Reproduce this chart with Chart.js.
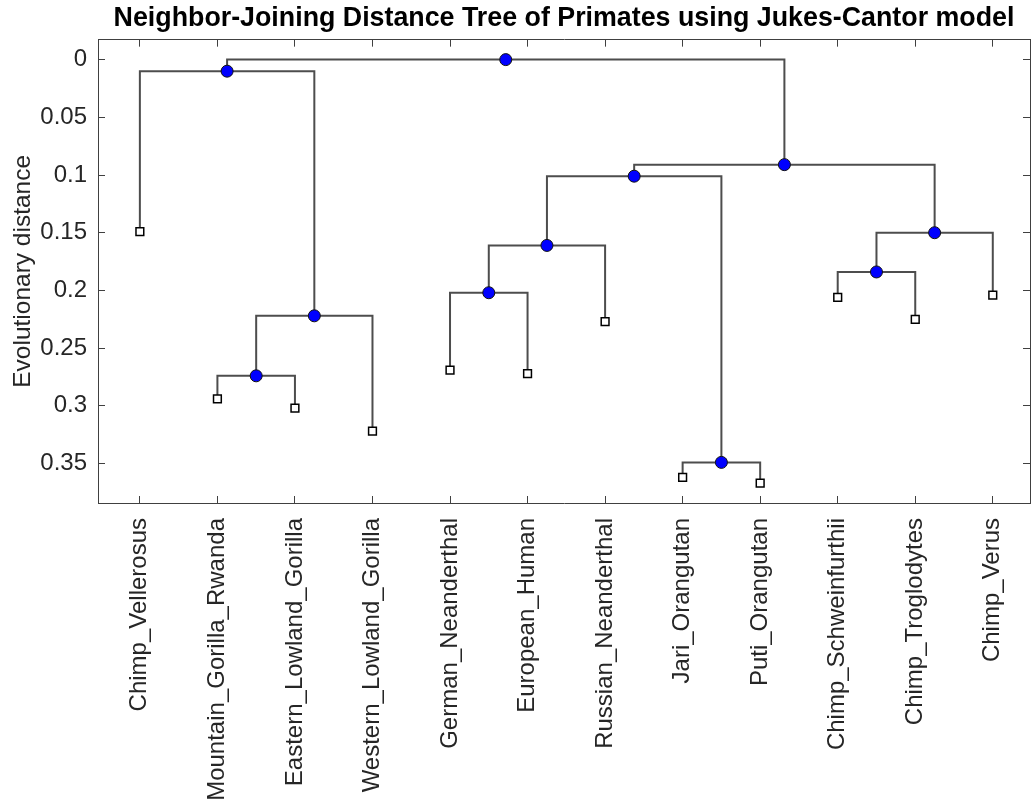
<!DOCTYPE html>
<html>
<head>
<meta charset="utf-8">
<title>Neighbor-Joining Distance Tree</title>
<script src="https://cdn.jsdelivr.net/npm/chart.js@4/dist/chart.umd.min.js"></script>
<style>
  html, body { margin: 0; padding: 0; background: #ffffff; }
  #treeChart { display: block; }
</style>
</head>
<body>
<canvas id="treeChart" width="1031" height="802"></canvas>
<script>
// leaves in plotting order, with their distance from the root
const leafNames = [
    'Chimp_Vellerosus', 'Mountain_Gorilla_Rwanda', 'Eastern_Lowland_Gorilla',
    'Western_Lowland_Gorilla', 'German_Neanderthal', 'European_Human',
    'Russian_Neanderthal', 'Jari_Orangutan', 'Puti_Orangutan',
    'Chimp_Schweinfurthii', 'Chimp_Troglodytes', 'Chimp_Verus'
];
const leafDistances = [0.149, 0.294, 0.302, 0.322, 0.269, 0.272, 0.227, 0.362, 0.367, 0.206, 0.225, 0.204];

// branch nodes get ids 12, 13, ... in this order; each joins two earlier ids
const branchChildren = [[1, 2], [12, 3], [0, 13], [4, 5], [15, 6], [7, 8], [16, 17], [9, 10], [19, 11], [18, 20], [14, 21]];
const branchDistances = [0.274, 0.222, 0.010, 0.202, 0.161, 0.349, 0.101, 0.184, 0.150, 0.091, 0];

const distanceTicks = [0, 0.05, 0.1, 0.15, 0.2, 0.25, 0.3, 0.35];

// tree layout: leaf i sits at x = i, a branch node sits halfway between its children
const nodeX = leafNames.map((name, i) => i);
branchChildren.forEach(([a, b]) => nodeX.push((nodeX[a] + nodeX[b]) / 2));
const nodeY = leafDistances.concat(branchDistances);

const fontFamily = '"Liberation Sans", Arial, Helvetica, sans-serif';
const axisColor = '#404040';
const textColor = '#262626';

// one bracket per branch node: down to child a, across, down to child b
const branchDatasets = branchChildren.map(([a, b], k) => {
    const id = leafNames.length + k;
    return {
        label: 'branch ' + id,
        data: [
            { x: nodeX[a], y: nodeY[a] },
            { x: nodeX[a], y: nodeY[id] },
            { x: nodeX[b], y: nodeY[id] },
            { x: nodeX[b], y: nodeY[b] }
        ],
        showLine: true,
        borderColor: '#4d4d4d',
        borderWidth: 2,
        pointRadius: 0,
        tension: 0,
        fill: false,
        order: 2
    };
});

const branchPoints = {
    label: 'branch nodes',
    data: branchDistances.map((d, k) => ({ x: nodeX[leafNames.length + k], y: d })),
    pointStyle: 'circle',
    pointRadius: 6,
    backgroundColor: '#0000ff',
    borderColor: '#111111',
    borderWidth: 1,
    order: 0
};

const leafPoints = {
    label: 'leaves',
    data: leafDistances.map((d, i) => ({ x: nodeX[i], y: d })),
    pointStyle: 'rect',
    pointRadius: 5.5,
    backgroundColor: '#ffffff',
    borderColor: '#000000',
    borderWidth: 1.5,
    order: 0
};

const leafTicks = scale => { scale.ticks = leafNames.map((name, i) => ({ value: i })); };
const distTicks = scale => { scale.ticks = distanceTicks.map(v => ({ value: v })); };
// fixed axis box: set the scale's size and drop the extra label padding
const fixSize = (w, h) => scale => {
    if (w !== null) scale.width = w;
    if (h !== null) scale.height = h;
    scale.paddingLeft = 0;
    scale.paddingRight = 0;
    scale.paddingTop = 0;
    scale.paddingBottom = 0;
};
const boxGrid = { drawOnChartArea: false, tickLength: -7, color: axisColor, tickWidth: 1 };
const boxBorder = { color: axisColor, width: 1 };

new Chart(document.getElementById('treeChart').getContext('2d'), {
    type: 'scatter',
    data: { datasets: [branchPoints, leafPoints].concat(branchDatasets) },
    options: {
        responsive: false,
        animation: false,
        devicePixelRatio: 1,
        layout: { padding: 0, autoPadding: false },
        clip: false,
        plugins: {
            legend: { display: false },
            tooltip: { enabled: false },
            title: {
                display: true,
                fullSize: false,
                text: 'Neighbor-Joining Distance Tree of Primates using Jukes-Cantor model',
                color: '#000000',
                font: { family: fontFamily, size: 26.8, weight: 'bold' },
                padding: { top: 3, bottom: 4.5 }
            }
        },
        scales: {
            x: {
                type: 'linear',
                position: 'bottom',
                min: -0.54,
                max: 11.48,
                afterBuildTicks: leafTicks,
                afterFit: fixSize(null, 299),
                ticks: {
                    autoSkip: false,
                    minRotation: 90,
                    maxRotation: 90,
                    padding: 22,
                    color: textColor,
                    font: { family: fontFamily, size: 24 },
                    callback: value => leafNames[value]
                },
                grid: boxGrid,
                border: boxBorder
            },
            xTop: {
                type: 'linear',
                position: 'top',
                min: -0.54,
                max: 11.48,
                afterBuildTicks: leafTicks,
                afterFit: fixSize(null, 0),
                ticks: { display: false },
                grid: boxGrid,
                border: boxBorder
            },
            y: {
                type: 'linear',
                position: 'left',
                reverse: true,
                min: -0.0173,
                max: 0.3842,
                afterBuildTicks: distTicks,
                afterFit: fixSize(98, null),
                ticks: {
                    padding: 18,
                    color: textColor,
                    font: { family: fontFamily, size: 24 },
                    callback: value => String(value)
                },
                title: {
                    display: true,
                    text: 'Evolutionary distance',
                    color: textColor,
                    font: { family: fontFamily, size: 24.5 },
                    padding: { top: 9, bottom: 0 }
                },
                grid: boxGrid,
                border: boxBorder
            },
            yRight: {
                type: 'linear',
                position: 'right',
                reverse: true,
                min: -0.0173,
                max: 0.3842,
                afterBuildTicks: distTicks,
                afterFit: fixSize(1, null),
                ticks: { display: false },
                grid: boxGrid,
                border: boxBorder
            }
        }
    }
});
</script>
</body>
</html>
